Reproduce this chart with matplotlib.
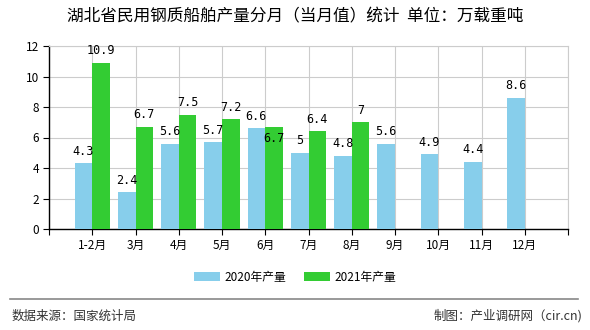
import matplotlib
matplotlib.use("Agg")
import matplotlib.pyplot as plt
import numpy as np

plt.rcParams['font.family'] = ['Noto Sans CJK SC', 'DejaVu Sans']

categories = ["1-2月", "3月", "4月", "5月", "6月", "7月", "8月", "9月", "10月", "11月", "12月"]
v2020 = [4.3, 2.4, 5.6, 5.7, 6.6, 5, 4.8, 5.6, 4.9, 4.4, 8.6]
v2021 = [10.9, 6.7, 7.5, 7.2, 6.7, 6.4, 7, None, None, None, None]
labels2020 = ["4.3", "2.4", "5.6", "5.7", "6.6", "5", "4.8", "5.6", "4.9", "4.4", "8.6"]
labels2021 = ["10.9", "6.7", "7.5", "7.2", "6.7", "6.4", "7"]
series_names = ["2020年产量", "2021年产量"]
title = "湖北省民用钢质船舶产量分月（当月值）统计  单位：万载重吨"

c2020 = "#87CEEB"
c2021 = "#33CC33"

fig = plt.figure(figsize=(5.9, 3.3), dpi=100)
ax = fig.add_axes([49/590, 1-229/330, (568-49)/590, (229-46)/330])

x = np.arange(1, len(categories)+1)
w = 0.41
b1 = ax.bar(x - w/2, v2020, width=w, color=c2020, zorder=3, label=series_names[0])
x21 = [xi for xi, v in zip(x, v2021) if v is not None]
y21 = [v for v in v2021 if v is not None]
b2 = ax.bar(np.array(x21) + w/2, y21, width=w, color=c2021, zorder=3, label=series_names[1])

lab_font = dict(fontsize=8.5, family=['DejaVu Sans Mono'], color='black')
for xi, v, t in zip(x, v2020, labels2020):
    ax.annotate(t, (xi - w/2, v), xytext=(0, 4), textcoords='offset points',
                ha='center', va='bottom', zorder=5, **lab_font)
for i, (xi, v, t) in enumerate(zip(x21, y21, labels2021)):
    off = 4 if i != 4 else -13
    ax.annotate(t, (xi + w/2, v), xytext=(0, off), textcoords='offset points',
                ha='center', va='bottom', zorder=5, **lab_font)

ax.set_xlim(0, 12)
ax.set_ylim(0, 12)
ax.set_yticks(range(0, 13, 2))
ax.set_xticks(range(0, 13))
ax.set_xticklabels([""] + categories + [""])
ax.grid(True, color="#cccccc", linewidth=0.8, zorder=0)
for s in ["top", "right"]:
    ax.spines[s].set_color("#cccccc")
for s in ["left", "bottom"]:
    ax.spines[s].set_color("black")
    ax.spines[s].set_linewidth(1.0)
ax.tick_params(axis='both', labelsize=8.5, length=4, color='black', pad=3)

fig.text(0.5, 1-17/330, title, ha='center', va='center', fontsize=12)

leg = fig.legend(handles=[b1, b2], labels=series_names, loc='center',
                 bbox_to_anchor=(0.5, 1-277/330), ncol=2, frameon=False,
                 fontsize=8.5, handlelength=2.2, handleheight=0.8,
                 columnspacing=1.5, handletextpad=0.4)

fig.add_artist(plt.Line2D([10/590, 578/590], [1-299/330, 1-299/330], color="#888888", linewidth=1.2))
fig.text(12/590, 1-316/330, "数据来源：国家统计局", ha='left', va='center', fontsize=9, color='#333333')
fig.text(582/590, 1-316/330, "制图：产业调研网（cir.cn)", ha='right', va='center', fontsize=9, color='#333333')

fig.savefig("out.png", dpi=100)
